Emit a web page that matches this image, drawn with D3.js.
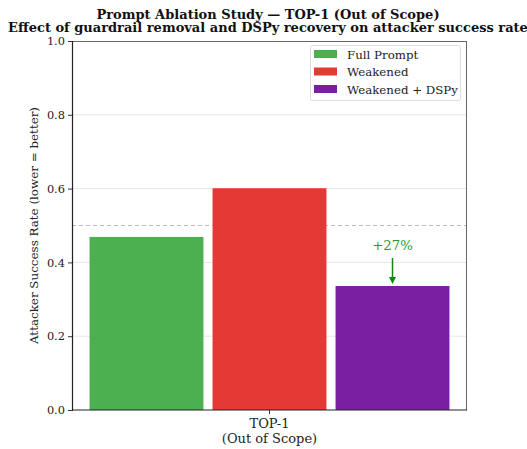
<!DOCTYPE html>
<html><head><meta charset="utf-8">
<script src="https://cdn.jsdelivr.net/npm/d3@7"></script>
<style>body{margin:0;background:#fff}svg{display:block}text{font-family:"DejaVu Serif",serif}</style>
</head><body><svg id="c" width="527" height="449"></svg>
<script>
const categories = ["TOP-1\n(Out of Scope)"];
const series = ["Full Prompt", "Weakened", "Weakened + DSPy"];
const values = [0.469, 0.601, 0.336];
const colors = ["#4caf50", "#e53935", "#7b1fa2"];
const offsets = [-0.27, 0, 0.27];
const yTicks = [0.0, 0.2, 0.4, 0.6, 0.8, 1.0];
const refLine = 0.5;
const annotation = "+27%";
const titleLines = ["Prompt Ablation Study — TOP-1 (Out of Scope)", "Effect of guardrail removal and DSPy recovery on attacker success rate"];
const yLabel = "Attacker Success Rate (lower = better)";

const svg = d3.select("#c");
const L = 72, R = 467, T = 41, B = 410;
const x = d3.scaleLinear().domain([-0.4335, 0.4335]).range([L, R]);
const y = d3.scaleLinear().domain([0, 1]).range([B, T]);
const bw = 0.25;

// grid
svg.append("g").selectAll("line").data(yTicks.filter(d => d > 0 && d < 1)).join("line")
  .attr("x1", L).attr("x2", R).attr("y1", d => y(d)).attr("y2", d => y(d))
  .attr("stroke", "#e6e6e6").attr("stroke-width", 1);
// ref line
svg.append("line").attr("x1", L).attr("x2", R).attr("y1", y(refLine)).attr("y2", y(refLine))
  .attr("stroke", "#bbb").attr("stroke-dasharray", "4,3").attr("stroke-width", 1);

// bars
svg.append("g").selectAll("rect").data(values).join("rect")
  .attr("x", (d, i) => x(offsets[i] - bw / 2))
  .attr("width", (d, i) => x(offsets[i] + bw / 2) - x(offsets[i] - bw / 2))
  .attr("y", d => y(d)).attr("height", d => y(0) - y(d))
  .attr("fill", (d, i) => colors[i]);

// annotation
const ax = x(offsets[2]);
svg.append("text").attr("x", ax).attr("y", y(values[2]) - 36).attr("text-anchor", "middle")
  .attr("font-size", 13.3).attr("fill", "#2a9a2a").text(annotation);
svg.append("line").attr("x1", ax).attr("x2", ax).attr("y1", y(values[2]) - 28).attr("y2", y(values[2]) - 8)
  .attr("stroke", "#118811").attr("stroke-width", 1.5);
svg.append("path").attr("d", `M${ax - 3.5},${y(values[2]) - 9} L${ax + 3.5},${y(values[2]) - 9} L${ax},${y(values[2]) - 2} Z`)
  .attr("fill", "#118811");

// frame
svg.append("line").attr("x1", L).attr("x2", R).attr("y1", T + 0.5).attr("y2", T + 0.5).attr("stroke", "#666");
svg.append("line").attr("x1", R - 0.5).attr("x2", R - 0.5).attr("y1", T).attr("y2", B).attr("stroke", "#666");

// y axis
const ya = svg.append("g").attr("transform", `translate(${L},0)`)
  .call(d3.axisLeft(y).tickValues(yTicks).tickFormat(d3.format(".1f")).tickSize(4));
ya.select(".domain").attr("stroke", "#222").attr("stroke-width", 1.2);
ya.selectAll(".tick line").attr("stroke", "#333");
ya.selectAll("text").attr("font-size", 11.4).attr("fill", "#222").attr("font-family", "DejaVu Serif");

// x axis
svg.append("line").attr("x1", L).attr("x2", R).attr("y1", B).attr("y2", B).attr("stroke", "#222").attr("stroke-width", 1.2);
svg.append("line").attr("x1", x(0)).attr("x2", x(0)).attr("y1", B).attr("y2", B + 4).attr("stroke", "#333");
const xl = svg.append("text").attr("text-anchor", "middle").attr("font-size", 13).attr("fill", "#222");
categories[0].split("\n").forEach((s, i) => xl.append("tspan").attr("x", x(0)).attr("y", 428 + i * 15).text(s));

// y label
svg.append("text").attr("transform", `translate(38,${(T + B) / 2}) rotate(-90)`).attr("text-anchor", "middle")
  .attr("font-size", 11.9).attr("fill", "#222").text(yLabel);

// title
titleLines.forEach((t, i) => svg.append("text").attr("x", 268).attr("y", 18.5 + i * 13.5).attr("text-anchor", "middle")
  .attr("font-size", 13).attr("font-weight", "bold").attr("fill", "#111").text(t));

// legend
const lg = svg.append("g");
lg.append("rect").attr("x", 310.5).attr("y", 45.5).attr("width", 150).attr("height", 55).attr("rx", 2)
  .attr("fill", "#fff").attr("fill-opacity", 0.85).attr("stroke", "#ddd");
series.forEach((s, i) => {
  lg.append("rect").attr("x", 314).attr("y", 50 + i * 17.5).attr("width", 23).attr("height", 8).attr("fill", colors[i]);
  lg.append("text").attr("x", 347).attr("y", 58.5 + i * 17.5).attr("font-size", 11.8).attr("fill", "#222").text(s);
});
</script></body></html>
